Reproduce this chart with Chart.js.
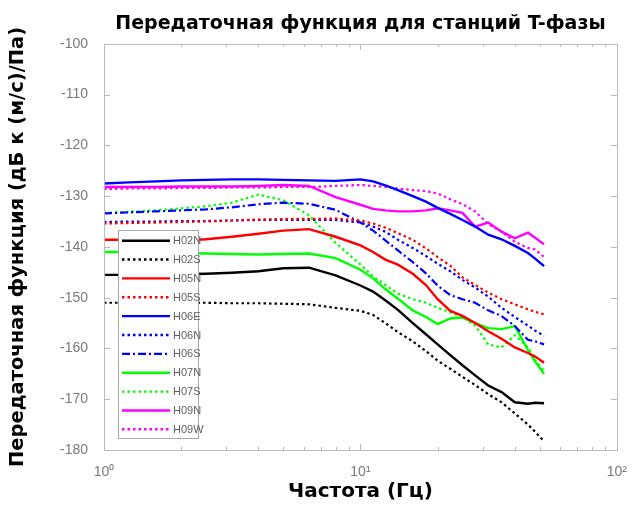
<!DOCTYPE html>
<html>
<head>
<meta charset="utf-8">
<script src="https://cdn.jsdelivr.net/npm/chart.js@4/dist/chart.umd.min.js"></script>
<style>
  html, body { margin: 0; padding: 0; background: #fff; }
  #c { display: block; }
</style>
</head>
<body>
<canvas id="c" width="633" height="505"></canvas>
<script>
// Frequencies (Hz) shared by every station curve
const freq = [1, 1.25, 1.6, 2, 2.5, 3.15, 4, 5, 6.3, 8, 10, 11.2, 12.5, 14, 16, 18, 20, 22.4, 25, 28, 31.5, 35.5, 40, 45, 48, 52];

// Transfer function, dB re (m/s)/Pa
const H02N = [-145.5,-145.5,-145.5,-145.4,-145.3,-145.1,-144.8,-144.2,-144.1,-145.6,-147.6,-148.8,-150.5,-152.4,-155,-157.2,-159.2,-161.3,-163.3,-165.3,-167.3,-168.6,-170.6,-170.9,-170.7,-170.8];
const H02S = [-151,-151,-151,-151,-151,-151.1,-151.1,-151.2,-151.3,-152,-152.6,-153.4,-155,-156.8,-158.6,-160.5,-162.4,-164,-165.6,-167.2,-169,-170.6,-172.8,-175,-176.4,-178.3];
const H05N = [-138.6,-138.6,-138.7,-138.8,-138.5,-138,-137.4,-136.8,-136.5,-138,-139.7,-141,-142.5,-143.5,-145.3,-147.5,-150.3,-152.6,-153.6,-155,-156.6,-158.1,-159.8,-160.9,-161.6,-162.8];
const H05S = [-135.4,-135.3,-135.2,-135.1,-135,-134.8,-134.6,-134.5,-134.5,-134.4,-134.8,-135.4,-136.2,-137.3,-138.6,-140.3,-142,-143.7,-146,-147.5,-149,-150.3,-151.3,-152.3,-152.8,-153.3];
const H06E = [-127.5,-127.3,-127.1,-126.9,-126.8,-126.7,-126.7,-126.8,-126.9,-127,-126.7,-127.1,-127.9,-128.8,-130,-131.1,-132.3,-133.5,-134.7,-136,-137.6,-138.5,-139.8,-141.2,-142.3,-143.8];
const H06N = [-135.1,-135,-135,-134.9,-134.9,-134.8,-134.7,-134.7,-134.7,-134.7,-135.2,-136,-137,-138.6,-140.2,-141.8,-143.3,-144.8,-146.5,-148,-149.8,-152,-153.8,-155.5,-156.5,-157.5];
const H06S = [-133.4,-133.2,-133,-132.8,-132.6,-132.2,-131.6,-131.3,-131.5,-132.7,-135.2,-136.8,-138.7,-140.7,-143,-145.2,-147.6,-149.5,-150.3,-151,-152.5,-153.6,-155.6,-158.3,-158.6,-159.2];
const H07N = [-141,-141,-141.1,-141.2,-141.3,-141.4,-141.5,-141.4,-141.3,-142.2,-144.5,-146.2,-148.3,-150.2,-152.5,-153.8,-155.2,-154.1,-153.9,-155,-156,-156.2,-155.6,-160.3,-162.6,-165];
const H07S = [-133.3,-133.1,-132.8,-132.4,-132,-131.3,-129.7,-130.8,-133.8,-139.2,-143.5,-145.8,-147.5,-149.2,-150.3,-151,-152,-152.9,-153.8,-155.5,-159.2,-159.8,-157.4,-159.8,-162.3,-164.5];
const H09N = [-128.2,-128.2,-128.2,-128.1,-128.1,-128.1,-128,-127.8,-128,-130.2,-131.7,-132.5,-132.8,-133,-133,-132.8,-132.4,-132.8,-133.3,-136,-135.2,-137,-138.3,-137.2,-138.2,-139.5];
const H09W = [-128.6,-128.5,-128.5,-128.4,-128.4,-128.3,-128.3,-128.2,-128.2,-128,-127.8,-128,-128.2,-128.5,-128.8,-129,-129.5,-130.6,-131.6,-133,-135.5,-137,-139,-140.2,-140.5,-142];

// Axis ticks
const xTicks = [1, 10, 100];
const xTickLabels = ['10\u2070', '10\u00b9', '10\u00b2'];
const xMinorTicks = [2,3,4,5,6,7,8,9,20,30,40,50,60,70,80,90];
const yTicks = [-180,-170,-160,-150,-140,-130,-120,-110,-100];

const DOT = [2.5, 3];
const DASHDOT = [8, 3, 2, 3];

const series = [
  { label: 'H02N', values: H02N, color: '#000000', dash: [] },
  { label: 'H02S', values: H02S, color: '#000000', dash: DOT },
  { label: 'H05N', values: H05N, color: '#ff0000', dash: [] },
  { label: 'H05S', values: H05S, color: '#ff0000', dash: DOT },
  { label: 'H06E', values: H06E, color: '#0000ff', dash: [] },
  { label: 'H06N', values: H06N, color: '#0000ff', dash: DOT },
  { label: 'H06S', values: H06S, color: '#0000ff', dash: DASHDOT },
  { label: 'H07N', values: H07N, color: '#00ff00', dash: [] },
  { label: 'H07S', values: H07S, color: '#00ff00', dash: DOT },
  { label: 'H09N', values: H09N, color: '#ff00ff', dash: [] },
  { label: 'H09W', values: H09W, color: '#ff00ff', dash: DOT }
];

const datasets = series.map(s => ({
  label: s.label,
  data: freq.map((f, i) => ({ x: f, y: s.values[i] })),
  borderColor: s.color,
  backgroundColor: s.color,
  borderDash: s.dash,
  borderWidth: s.dash.length ? 2.2 : 2.4,
  pointRadius: 0,
  tension: 0,
  fill: false
}));

// Box frame, inward ticks on all four sides, and the inset legend
const framePlugin = {
  id: 'frame',
  afterDatasetsDraw(chart) {
    const { ctx, chartArea: a, scales: { x, y } } = chart;
    ctx.save();
    ctx.strokeStyle = '#b8b8b8';
    ctx.lineWidth = 1;
    const tick = (x1, y1, x2, y2) => { ctx.beginPath(); ctx.moveTo(x1, y1); ctx.lineTo(x2, y2); ctx.stroke(); };
    xTicks.forEach(v => {
      const px = Math.round(x.getPixelForValue(v)) + 0.5;
      tick(px, a.bottom, px, a.bottom - 6);
      tick(px, a.top, px, a.top + 6);
    });
    xMinorTicks.forEach(v => {
      const px = Math.round(x.getPixelForValue(v)) + 0.5;
      tick(px, a.bottom, px, a.bottom - 3);
      tick(px, a.top, px, a.top + 3);
    });
    yTicks.forEach(v => {
      const py = Math.round(y.getPixelForValue(v)) + 0.5;
      tick(a.left, py, a.left + 6, py);
      tick(a.right, py, a.right - 6, py);
    });
    ctx.strokeStyle = '#bcbcbc';
    ctx.strokeRect(Math.round(a.left) + 0.5, Math.round(a.top) + 0.5,
                   Math.round(a.right - a.left), Math.round(a.bottom - a.top));

    // legend
    const lx = 118, ly = 230, lw = 80, lh = 208;
    ctx.fillStyle = '#ffffff';
    ctx.fillRect(lx, ly, lw, lh);
    ctx.strokeStyle = '#a8a8a8';
    ctx.strokeRect(lx + 0.5, ly + 0.5, lw, lh);
    ctx.font = '11px "Liberation Sans", Arial, sans-serif';
    ctx.textBaseline = 'middle';
    ctx.textAlign = 'left';
    chart.data.datasets.forEach((ds, i) => {
      const ry = ly + 10.7 + i * 18.86;
      ctx.strokeStyle = ds.borderColor;
      ctx.lineWidth = 2.4;
      ctx.setLineDash(ds.borderDash);
      ctx.beginPath();
      ctx.moveTo(122, ry);
      ctx.lineTo(170, ry);
      ctx.stroke();
      ctx.setLineDash([]);
      ctx.fillStyle = '#606060';
      ctx.fillText(ds.label, 173, ry + 0.5);
    });
    ctx.restore();
  }
};

new Chart(document.getElementById('c'), {
  type: 'line',
  data: { datasets },
  plugins: [framePlugin],
  options: {
    responsive: false,
    animation: false,
    devicePixelRatio: 1,
    layout: { padding: { left: 0, right: 16, top: 0, bottom: 0 } },
    plugins: {
      legend: { display: false },
      tooltip: { enabled: false },
      title: {
        display: true,
        text: 'Передаточная функция для станций T-фазы',
        fullSize: false,
        color: '#000',
        font: { family: '"DejaVu Sans", sans-serif', weight: 'bold', size: 19 },
        padding: { top: 13, bottom: 8 }
      }
    },
    scales: {
      x: {
        type: 'logarithmic',
        min: 1,
        max: 100,
        afterBuildTicks: s => { s.ticks = xTicks.map(v => ({ value: v, major: true })); },
        afterFit: s => { s.height = 55; },
        grid: { display: false },
        border: { display: false },
        ticks: {
          autoSkip: false,
          maxRotation: 0,
          padding: 6,
          color: '#7a7a7a',
          font: { family: '"Liberation Sans", Arial, sans-serif', size: 14 },
          callback: v => xTickLabels[xTicks.indexOf(v)] ?? ''
        },
        title: {
          display: true,
          text: 'Частота (Гц)',
          color: '#000',
          font: { family: '"DejaVu Sans", sans-serif', weight: 'bold', size: 20 },
          padding: { top: 0, bottom: 1 }
        }
      },
      y: {
        type: 'linear',
        min: -180,
        max: -100,
        afterBuildTicks: s => { s.ticks = yTicks.map(v => ({ value: v })); },
        afterFit: s => { s.width = 104; },
        grid: { display: false },
        border: { display: false },
        ticks: {
          padding: 8,
          color: '#7a7a7a',
          font: { family: '"Liberation Sans", Arial, sans-serif', size: 14 },
          callback: v => String(v)
        },
        title: {
          display: true,
          text: 'Передаточная функция (дБ к (м/с)/Па)',
          color: '#000',
          font: { family: '"DejaVu Sans", sans-serif', weight: 'bold', size: 19.5 },
          padding: { top: 6, bottom: 0 }
        }
      }
    }
  }
});
</script>
</body>
</html>
